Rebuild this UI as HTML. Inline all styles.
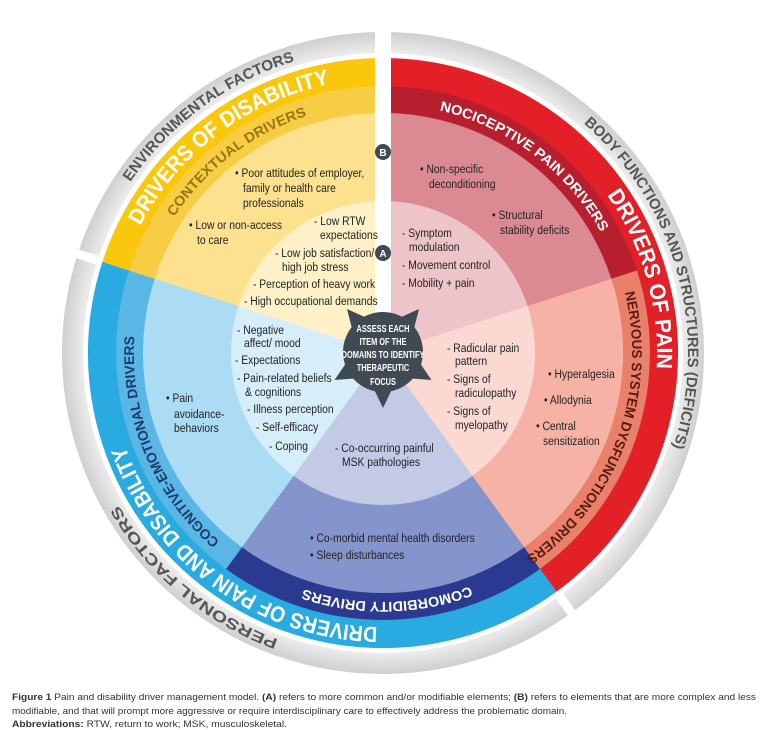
<!DOCTYPE html>
<html><head><meta charset="utf-8"><style>
html,body{margin:0;padding:0;background:#fff;}
svg{display:block;}
.t{font-family:"Liberation Sans",sans-serif;font-size:12px;fill:#222;}
.lb{font-family:"Liberation Sans",sans-serif;font-weight:bold;}
.cap{font-family:"Liberation Sans",sans-serif;font-size:9.5px;fill:#333;}
</style></head><body>
<svg width="760" height="730" viewBox="0 0 760 730" xmlns="http://www.w3.org/2000/svg">
<defs>
<path id="c305" d="M383,48 A305,305 0 1 1 383,658 A305,305 0 1 1 383,48"/>
<path id="c274" d="M383,79 A274,274 0 1 1 383,627 A274,274 0 1 1 383,79"/>
<path id="c249" d="M383,104 A249,249 0 1 1 383,602 A249,249 0 1 1 383,104"/>
<radialGradient id="gg" cx="383" cy="353" r="321" gradientUnits="userSpaceOnUse">
<stop offset="0.93" stop-color="#eeeeee"/><stop offset="1" stop-color="#cfcfcf"/></radialGradient>
</defs>
<circle cx="383" cy="353" r="321" fill="url(#gg)"/>
<circle cx="383" cy="353" r="300" fill="#fff"/>
<path d="M383,353 L383,58 A295,295 0 0 1 556.4,591.7 Z" fill="#e32028"/>
<path d="M383,353 L556.4,591.7 A295,295 0 0 1 102.4,261.8 Z" fill="#29abe2"/>
<path d="M383,353 L102.4,261.8 A295,295 0 0 1 383,58 Z" fill="#fbc70d"/>
<path d="M383,353 L383,86 A267,267 0 0 1 636.9,270.5 Z" fill="#b81f2e"/>
<path d="M383,353 L636.9,270.5 A267,267 0 0 1 539.9,569 Z" fill="#e9806a"/>
<path d="M383,353 L539.9,569 A267,267 0 0 1 226.1,569 Z" fill="#2b3990"/>
<path d="M383,353 L226.1,569 A267,267 0 0 1 129.1,270.5 Z" fill="#5ab6e5"/>
<path d="M383,353 L129.1,270.5 A267,267 0 0 1 383,86 Z" fill="#f7cd45"/>
<path d="M383,353 L383,113 A240,240 0 0 1 611.3,278.8 Z" fill="#db8a93"/>
<path d="M383,353 L611.3,278.8 A240,240 0 0 1 524.1,547.2 Z" fill="#f6b3a5"/>
<path d="M383,353 L524.1,547.2 A240,240 0 0 1 241.9,547.2 Z" fill="#8494cc"/>
<path d="M383,353 L241.9,547.2 A240,240 0 0 1 154.7,278.8 Z" fill="#acdcf4"/>
<path d="M383,353 L154.7,278.8 A240,240 0 0 1 383,113 Z" fill="#fce28e"/>
<circle cx="383" cy="353" r="152" fill="#fff" fill-opacity="0.5"/>
<rect x="375" y="0" width="16" height="353" fill="#fff"/>
<line x1="557.6" y1="593.3" x2="576" y2="619" stroke="#fff" stroke-width="9"/>
<line x1="100.5" y1="261.2" x2="71" y2="251.6" stroke="#fff" stroke-width="9"/>

<text class="lb" font-size="15" fill="#555"><textPath href="#c305" startOffset="1722" text-anchor="middle" textLength="208" lengthAdjust="spacingAndGlyphs">ENVIRONMENTAL FACTORS</textPath></text>
<text class="lb" font-size="15" fill="#555"><textPath href="#c305" startOffset="397" text-anchor="middle" textLength="356" lengthAdjust="spacingAndGlyphs">BODY FUNCTIONS AND STRUCTURES (DEFICITS)</textPath></text>
<text class="lb" font-size="15" fill="#555"><textPath href="#c305" startOffset="1171" text-anchor="middle" textLength="213" lengthAdjust="spacingAndGlyphs">PERSONAL FACTORS</textPath></text>

<text class="lb" font-size="22" fill="#fff"><textPath href="#c274" startOffset="1545" text-anchor="middle" textLength="244" lengthAdjust="spacingAndGlyphs">DRIVERS OF DISABILITY</textPath></text>
<text class="lb" font-size="22" fill="#fff"><textPath href="#c274" startOffset="354" text-anchor="middle" textLength="184" lengthAdjust="spacingAndGlyphs">DRIVERS OF PAIN</textPath></text>
<text class="lb" font-size="22" fill="#fff"><textPath href="#c274" startOffset="1031" text-anchor="middle" textLength="330" lengthAdjust="spacingAndGlyphs">DRIVERS OF PAIN AND DISABILITY</textPath></text>

<text class="lb" font-size="14" fill="#9a7410"><textPath href="#c249" startOffset="1402" text-anchor="middle" textLength="170" lengthAdjust="spacingAndGlyphs">CONTEXTUAL DRIVERS</textPath></text>
<text class="lb" font-size="14" fill="#fff"><textPath href="#c249" startOffset="161" text-anchor="middle" textLength="208" lengthAdjust="spacingAndGlyphs">NOCICEPTIVE PAIN DRIVERS</textPath></text>
<text class="lb" font-size="14" fill="#5a1a10"><textPath href="#c249" startOffset="480" text-anchor="middle" textLength="300" lengthAdjust="spacingAndGlyphs">NERVOUS SYSTEM DYSFUNCTIONS DRIVERS</textPath></text>
<text class="lb" font-size="14" fill="#fff"><textPath href="#c249" startOffset="778" text-anchor="middle" textLength="170" lengthAdjust="spacingAndGlyphs">COMORBIDITY DRIVERS</textPath></text>
<text class="lb" font-size="14" fill="#1c3a6e"><textPath href="#c249" startOffset="1075" text-anchor="middle" textLength="230" lengthAdjust="spacingAndGlyphs">COGNITIVE-EMOTIONAL DRIVERS</textPath></text>

<circle cx="383" cy="152" r="8" fill="#3f4a52"/><text x="383" y="156" class="lb" font-size="10" fill="#fff" text-anchor="middle">B</text>
<circle cx="383" cy="253" r="8" fill="#3f4a52"/><text x="383" y="257" class="lb" font-size="10" fill="#fff" text-anchor="middle">A</text>

<g class="t">
<text transform="translate(235,177) scale(.86,1)">• Poor attitudes of employer,</text>
<text transform="translate(243,192) scale(.86,1)">family or health care</text>
<text transform="translate(243,207) scale(.86,1)">professionals</text>
<text transform="translate(189,229) scale(.86,1)">• Low or non-access</text>
<text transform="translate(197,244) scale(.86,1)">to care</text>
<text transform="translate(314,225) scale(.86,1)">- Low RTW</text>
<text transform="translate(320,239) scale(.86,1)">expectations</text>
<text transform="translate(275,257) scale(.86,1)">- Low job satisfaction/</text>
<text transform="translate(282,271) scale(.86,1)">high job stress</text>
<text transform="translate(253,288) scale(.86,1)">- Perception of heavy work</text>
<text transform="translate(244,305) scale(.86,1)">- High occupational demands</text>
<text transform="translate(420,173) scale(.86,1)">• Non-specific</text>
<text transform="translate(429,188) scale(.86,1)">deconditioning</text>
<text transform="translate(492,219) scale(.86,1)">• Structural</text>
<text transform="translate(500,234) scale(.86,1)">stability deficits</text>
<text transform="translate(402,237) scale(.86,1)">- Symptom</text>
<text transform="translate(409,251) scale(.86,1)">modulation</text>
<text transform="translate(402,269) scale(.86,1)">- Movement control</text>
<text transform="translate(402,287) scale(.86,1)">- Mobility + pain</text>
<text transform="translate(447,352) scale(.86,1)">- Radicular pain</text>
<text transform="translate(455,365) scale(.86,1)">pattern</text>
<text transform="translate(447,383) scale(.86,1)">- Signs of</text>
<text transform="translate(455,397) scale(.86,1)">radiculopathy</text>
<text transform="translate(447,415) scale(.86,1)">- Signs of</text>
<text transform="translate(455,429) scale(.86,1)">myelopathy</text>
<text transform="translate(548,378) scale(.86,1)">• Hyperalgesia</text>
<text transform="translate(544,404) scale(.86,1)">• Allodynia</text>
<text transform="translate(536,430) scale(.86,1)">• Central</text>
<text transform="translate(543,445) scale(.86,1)">sensitization</text>
<text transform="translate(335,452) scale(.86,1)">- Co-occurring painful</text>
<text transform="translate(342,466) scale(.86,1)">MSK pathologies</text>
<text transform="translate(310,542) scale(.86,1)">• Co-morbid mental health disorders</text>
<text transform="translate(310,559) scale(.86,1)">• Sleep disturbances</text>
<text transform="translate(237,334) scale(.86,1)">- Negative</text>
<text transform="translate(244,347) scale(.86,1)">affect/ mood</text>
<text transform="translate(235,364) scale(.86,1)">- Expectations</text>
<text transform="translate(237,382) scale(.86,1)">- Pain-related beliefs</text>
<text transform="translate(245,396) scale(.86,1)">&amp; cognitions</text>
<text transform="translate(247,413) scale(.86,1)">- Illness perception</text>
<text transform="translate(256,431) scale(.86,1)">- Self-efficacy</text>
<text transform="translate(269,450) scale(.86,1)">- Coping</text>
<text transform="translate(166,402) scale(.86,1)">• Pain</text>
<text transform="translate(174,418) scale(.86,1)">avoidance-</text>
<text transform="translate(174,432) scale(.86,1)">behaviors</text>
</g>

<g fill="#3f4a52">
<circle cx="383" cy="352" r="40"/>
<polygon points="419,309 399.7,317.8 413.7,329.7"/>
<polygon points="347,309 366.3,317.8 352.3,329.7"/>
<polygon points="431.5,380 419.5,362.5 410.3,378.4"/>
<polygon points="334.5,380 346.5,362.5 355.7,378.4"/>
<polygon points="383,408 392.2,388.9 373.8,388.9"/>
</g>
<g class="lb" font-size="10" fill="#fff" text-anchor="middle">
<text transform="translate(383,332) scale(.74,1)">ASSESS EACH</text>
<text transform="translate(383,345) scale(.74,1)">ITEM OF THE</text>
<text transform="translate(383,358) scale(.74,1)">DOMAINS TO IDENTIFY</text>
<text transform="translate(383,371) scale(.74,1)">THERAPEUTIC</text>
<text transform="translate(383,385) scale(.74,1)">FOCUS</text>
</g>

<text class="cap" x="12" y="700" textLength="744" lengthAdjust="spacingAndGlyphs"><tspan font-weight="bold">Figure 1</tspan> Pain and disability driver management model. <tspan font-weight="bold">(A)</tspan> refers to more common and/or modifiable elements; <tspan font-weight="bold">(B)</tspan> refers to elements that are more complex and less</text>
<text class="cap" x="12" y="714" textLength="555" lengthAdjust="spacingAndGlyphs">modifiable, and that will prompt more aggressive or require interdisciplinary care to effectively address the problematic domain.</text>
<text class="cap" x="12" y="727" textLength="275" lengthAdjust="spacingAndGlyphs"><tspan font-weight="bold">Abbreviations:</tspan> RTW, return to work; MSK, musculoskeletal.</text>
</svg>
</body></html>
